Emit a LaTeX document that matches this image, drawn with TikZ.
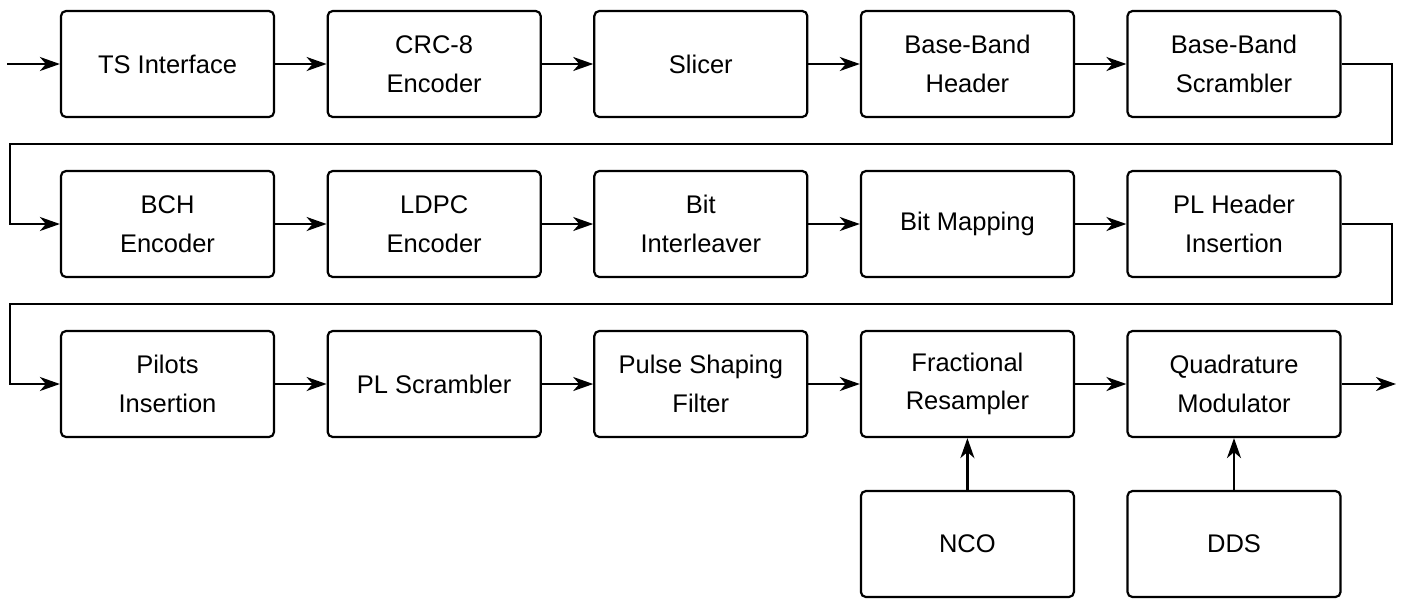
\documentclass[tikz,border=0pt]{standalone}
\usepackage{fontspec}
\setmainfont{Liberation Sans}
\usetikzlibrary{arrows.meta}
\begin{document}
\begin{tikzpicture}[x=1pt,y=-1pt,
  blk/.style={draw, line width=2.2pt, rounded corners=5pt, minimum width=213pt, minimum height=106pt,
    align=center, inner sep=0pt, font=\fontsize{25.5}{38.5}\selectfont},
  conn/.style={line width=2.2pt, -{Stealth[length=20pt,width=14pt,inset=6pt]}}]
\useasboundingbox (0,0) rectangle (1405,598);
\def\cA{167.5}\def\cB{434.2}\def\cC{700.8}\def\cD{967.4}\def\cE{1234}
\node[blk] (ts) at (\cA,64) {TS Interface};
\node[blk] (crc) at (\cB,64) {CRC-8\\Encoder};
\node[blk] (sl) at (\cC,64) {Slicer};
\node[blk] (bbh) at (\cD,64) {Base-Band\\Header};
\node[blk] (bbs) at (\cE,64) {Base-Band\\Scrambler};
\node[blk] (bch) at (\cA,224) {BCH\\Encoder};
\node[blk] (ldpc) at (\cB,224) {LDPC\\Encoder};
\node[blk] (bi) at (\cC,224) {Bit\\Interleaver};
\node[blk] (bm) at (\cD,224) {Bit Mapping};
\node[blk] (plh) at (\cE,224) {PL Header\\Insertion};
\node[blk] (pi) at (\cA,384) {Pilots\\Insertion};
\node[blk] (pls) at (\cB,384) {PL Scrambler};
\node[blk] (psf) at (\cC,384) {Pulse Shaping\\Filter};
\node[blk] (fr) at (\cD,384) {Fractional\\Resampler};
\node[blk] (qm) at (\cE,384) {Quadrature\\Modulator};
\node[blk] (nco) at (\cD,544) {NCO};
\node[blk] (dds) at (\cE,544) {DDS};
\coordinate (in) at (7,64);
\coordinate (out) at (1396,384);
\draw[conn] (in) -- (ts);
\draw[conn] (ts) -- (crc);
\draw[conn] (crc) -- (sl);
\draw[conn] (sl) -- (bbh);
\draw[conn] (bbh) -- (bbs);
\draw[conn] (bbs.east) -- ++(50,0) |- (10,144) |- (bch.west);
\draw[conn] (bch) -- (ldpc);
\draw[conn] (ldpc) -- (bi);
\draw[conn] (bi) -- (bm);
\draw[conn] (bm) -- (plh);
\draw[conn] (plh.east) -- ++(50,0) |- (10,304) |- (pi.west);
\draw[conn] (pi) -- (pls);
\draw[conn] (pls) -- (psf);
\draw[conn] (psf) -- (fr);
\draw[conn] (fr) -- (qm);
\draw[conn] (qm) -- (out);
\draw[conn] (nco) -- (fr);
\draw[conn] (dds) -- (qm);
\end{tikzpicture}
\end{document}
